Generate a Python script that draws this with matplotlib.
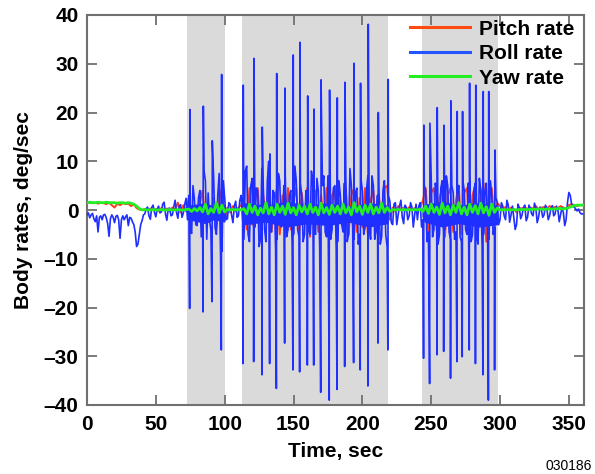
import numpy as np
import matplotlib
matplotlib.use("Agg")
import matplotlib.pyplot as plt

plt.rcParams['font.family'] = ['Liberation Sans', 'DejaVu Sans']

# roll rate background, read every 1 s, deg/sec
t_roll = np.arange(0, 361, 1)
roll_bg = [
    -1.0, -0.6, -1.6, -1.0, -0.7, -1.8, -2.4, -1.2, -4.5, -1.5,
    -1.2, -2.0, -1.0, -0.9, -1.6, -2.8, -5.4, -1.8, -1.0, -1.5,
    -2.6, -1.3, -1.1, -2.0, -5.8, -2.0, -1.2, -2.0, -1.4, -1.0,
    -3.2, -1.5, -1.7, -2.4, -3.0, -4.5, -7.5, -7.0, -5.0, -3.0,
    -2.2, -1.0, -0.8, 0.3, 0.6, -1.2, -1.9, 0.5, 1.0, -0.5,
    -1.4, 0.2, 0.8, -0.6, -0.4, 1.2, 1.6, -0.8, -2.1, 0.3,
    0.4, -1.2, -1.0, 0.6, 2.0, -0.5, -1.7, 0.8, 1.1, -1.5,
    -0.6, 1.2, 2.4, -2.0, 3.0, -4.0, -4.8, 5.0, 2.2, -3.0,
    -3.2, 2.5, 4.0, -5.5, -2.5, 8.0, 6.0, -6.0, 3.5, -2.0,
    -4.2, 5.2, 6.5, -3.6, -5.0, 3.0, 7.5, -9.0, -8.5, 6.0,
    2.5, -2.0, -1.8, 1.5, 1.2, -1.0, -2.6, 0.8, 1.8, -1.5,
    -1.2, 2.0, 3.0, -2.5, -6.0, 8.0, 9.0, -5.0, -6.5, 5.0,
    6.5, -4.0, -3.5, 4.5, 4.0, -7.5, -6.0, 8.5, 5.0, -4.0,
    -6.5, 6.0, 10.0, -3.0, -4.5, 4.0, 3.5, -8.0, -6.0, 7.5,
    6.0, -3.5, -3.0, 5.0, 7.5, -5.5, -4.0, 3.0, 4.0, -7.0,
    -5.0, 9.0, 6.0, -4.0, -5.5, 5.5, 3.0, -6.5, -5.0, 4.0,
    3.0, -4.0, -5.0, 8.0, 6.0, -3.5, -5.0, 6.5, 4.0, -7.5,
    -6.0, 5.0, 7.0, -4.5, -5.5, 7.0, 4.0, -6.0, -4.0, 4.5,
    5.0, -8.0, -6.5, 6.0, 3.0, -3.0, -4.5, 5.5, 6.5, -6.5,
    -5.0, 8.5, 5.0, -4.0, -6.0, 3.5, 4.5, -7.0, -5.0, 6.5,
    4.0, -5.0, -3.5, 4.0, 7.0, -3.5, -6.0, 7.0, 5.0, -6.0,
    -4.0, 3.0, 5.0, -7.0, -5.5, 4.0, 6.0, -5.0, -7.5, 3.0,
    1.8, -2.5, -3.0, 1.2, 1.5, -3.0, -1.0, 0.8, 2.0, -1.5,
    -2.8, 1.0, 0.5, -2.0, -1.2, 1.5, 0.6, -3.5, -1.0, 1.2,
    -2.0, 0.8, 1.5, -3.5, -2.0, 5.0, 4.0, -6.5, -4.5, 4.0,
    6.5, -5.5, -4.0, 5.5, 4.0, -7.0, -5.0, 4.5, 6.0, -5.0,
    -4.0, 7.0, 5.0, -4.5, -6.0, 5.0, 3.5, -6.0, -4.5, 3.5,
    5.0, -5.5, -6.5, 6.0, 4.0, -4.0, -5.0, 5.5, 7.0, -6.5,
    -5.0, 4.0, 5.5, -5.0, -7.0, 6.5, 4.0, -7.5, -5.0, 3.5,
    5.5, -4.5, -6.0, 6.0, 3.0, -5.0, -3.5, 2.5, 1.5, -3.0,
    -2.0, 1.5, 0.8, -1.2, -2.0, 2.0, 1.0, -2.5, -1.0, 0.8,
    -1.5, -4.0, -3.0, 1.2, 0.5, -1.8, -1.0, 0.5, 1.0, -2.2,
    -1.5, 1.0, 0.3, -0.8, -1.2, 1.4, 0.5, -2.6, -1.5, 0.6,
    0.2, -1.5, -1.0, 1.0, 0.4, -2.0, -1.2, 0.4, 0.9, -1.2,
    -0.8, 0.8, 0.2, -2.4, -1.0, 0.5, -0.5, -3.2, -2.0, 1.5,
    3.6, 3.0, 1.2, 0.8, 0.6, 0.2, -0.2, 0.2, -0.5, -0.8,
    -0.8,
]

# dense core of the roll trace inside the test periods
core_t = [72.4, 74, 86, 92, 100.2, 112.3, 114, 130, 145, 160, 175,
          190, 205, 218.8, 243.3, 245, 258, 270, 285, 298.5]
core_hi = [0.3, 1.0, 1.5, 0.8, 1.2, 0.5, 1.5, 1.0, 1.8, 1.0, 1.5,
           0.8, 1.5, 1.0, 0.5, 1.2, 1.8, 1.0, 1.5, 1.0]
core_lo = [-0.6, -2.0, -2.8, -2.0, -2.5, -1.0, -3.0, -2.5, -3.5, -2.8, -3.2,
           -2.5, -3.5, -2.8, -1.2, -2.5, -3.5, -2.8, -3.5, -3.0]
core_seg = [(0, 5), (5, 14), (14, 20)]

# big roll spikes: time, top, bottom
spike_t = [74.8, 84.5, 91.0, 97.8,
           113.5, 121.3, 127.3, 132.9, 137.8, 143.8, 149.8, 154.7, 160.3,
           164.9, 170.0, 176.2, 181.8, 187.4, 193.9, 198.7, 204.3, 211.6,
           218.8,
           244.7, 249.1, 254.4, 259.3, 264.3, 268.9, 272.8, 277.9, 282.4,
           287.8, 291.8, 296.3]
spike_hi = [20.6, 21.3, 14.2, 27.8,
            25.6, 31.1, 17.0, 11.5, 28.0, 25.0, 31.8, 34.4, 23.4,
            20.7, 26.7, 24.6, 23.0, 26.2, 30.1, 26.0, 38.1, 20.0,
            26.8,
            17.4, 17.8, 21.0, 17.4, 22.4, 20.2, 20.2, 26.0, 25.6,
            24.3, 24.3, 12.3]
spike_lo = [-20.2, -20.9, -18.8, -28.7,
            -31.5, -31.1, -33.8, -31.5, -36.6, -27.3, -32.8, -33.2, -31.8,
            -31.8, -37.4, -39.0, -36.8, -32.1, -31.3, -32.8, -36.1, -27.3,
            -28.7,
            -30.4, -35.6, -29.7, -29.0, -34.5, -31.1, -30.1, -28.7, -31.5,
            -33.8, -39.0, -32.8]

# pitch and yaw rates, read every 2 s
t_py = np.arange(0, 362, 2)
pitch = [
    1.5, 1.5, 1.4, 1.5, 1.3, 1.5, 1.4, 1.2, 1.5, 1.0,
    0.5, 1.3, 1.0, 1.4, 1.2, 1.3, 0.8, 1.2, 0.4, 0.1,
    0.0, 0.2, -0.1, 0.3, 0.0, 0.2, -0.2, 0.4, 0.0, 0.3,
    -0.2, 0.5, 0.0, 1.5, -0.5, 1.0, -0.3, 2.5, -2.0, 1.0,
    -1.5, 1.5, 4.0, -2.5, 1.0, -1.0, 2.5, -3.5, 2.0, 4.5,
    -2.0, 0.5, -0.5, 0.8, -0.3, 0.5, 1.0, 2.0, -4.0, 4.5,
    -3.0, 2.0, 4.5, -5.0, 3.0, -2.0, 4.5, -4.5, 1.5, 4.5,
    -5.0, 3.0, -2.5, 4.5, -4.0, 2.0, 4.5, -5.0, 3.5, -2.0,
    4.5, -5.5, 2.5, 4.0, -4.5, 3.0, -2.0, 4.5, -5.5, 3.0,
    4.5, -4.0, 2.0, -3.0, 4.5, -5.0, 3.0, 4.5, -4.5, 2.5,
    -3.5, 4.5, -5.0, 2.0, 4.0, -4.5, 3.0, -2.5, 4.5, 5.0,
    -2.0, 0.5, -0.3, 0.8, 0.0, 0.5, -0.2, 0.6, 0.0, 0.4,
    0.2, 0.5, 2.0, 4.5, -5.0, 3.5, 4.5, -4.0, 2.5, 4.5,
    -5.5, 3.0, 4.5, -4.5, 2.0, 5.0, -5.0, 3.5, 4.5, -6.0,
    3.0, 5.0, -4.5, 2.5, 5.5, -6.5, 3.5, 4.5, -3.0, 1.5,
    0.8, 0.3, 0.6, 0.0, 0.5, 0.2, -0.5, 0.4, 0.3, 0.6,
    0.2, 0.5, 0.3, 0.8, 0.2, 0.5, 0.6, 0.3, 0.8, 0.5,
    0.6, 0.4, 0.8, 0.5, 0.3, 1.0, 1.2, 1.0, 0.8, 1.0,
    1.0,
]
yaw = [
    1.5, 1.6, 1.5, 1.5, 1.6, 1.5, 1.5, 1.6, 1.5, 1.5,
    1.5, 1.4, 1.5, 1.5, 1.4, 1.5, 1.4, 1.2, 0.8, 0.3,
    0.0, 0.1, 0.0, 0.0, 0.1, 0.0, 0.0, 0.1, 0.0, 0.0,
    0.1, 0.0, 0.0, 0.1, 0.0, 0.0, 0.1, 0.2, -0.3, 0.3,
    -0.2, 0.5, -0.4, 1.2, -0.8, 0.3, -0.5, 1.5, -0.6, 1.0,
    -0.4, 0.1, 0.0, 0.1, 0.0, 0.1, 0.0, 0.3, -0.8, 1.2,
    -0.5, 0.8, -1.0, 0.4, -0.6, 1.5, -0.8, 0.6, -1.0, 1.2,
    -0.5, 0.8, -0.9, 1.4, -0.6, 0.5, -1.0, 1.0, -0.4, 0.8,
    -0.8, 1.2, -0.5, 0.6, -1.0, 1.4, -0.6, 0.5, -0.9, 1.0,
    -0.5, 0.8, -0.8, 1.2, -0.6, 0.6, -1.0, 1.5, -0.4, 0.8,
    -0.9, 1.0, -0.5, 1.2, -0.8, 0.6, -0.6, 1.4, -0.5, 0.5,
    -0.3, 0.1, 0.0, 0.1, 0.0, 0.1, 0.0, 0.1, 0.0, 0.1,
    0.0, 0.2, -0.3, 0.8, -0.7, 1.2, -0.5, 0.6, -0.9, 1.4,
    -0.6, 0.8, -1.0, 1.0, -0.5, 1.5, -0.8, 0.6, -1.0, 1.2,
    -0.5, 0.9, -0.8, 1.4, -0.6, 0.7, -1.1, 1.2, -0.5, 0.4,
    0.0, 0.1, 0.0, 0.1, 0.0, 0.1, 0.0, 0.1, 0.1, 0.1,
    0.1, 0.1, 0.2, 0.1, 0.2, 0.2, 0.1, 0.2, 0.2, 0.2,
    0.2, 0.3, 0.3, 0.2, 0.3, 0.5, 0.7, 0.9, 1.0, 1.0,
    1.0,
]

# grey bands (test periods)
bands = [(72.4, 100.2), (112.3, 218.8), (243.3, 298.5)]

# merge background and spikes for the roll trace
st = np.array(spike_t)
roll_t = np.concatenate([t_roll, st - 0.25, st])
roll_v = np.concatenate([roll_bg, spike_lo, spike_hi])
order = np.argsort(roll_t, kind='stable')
roll_t = roll_t[order]
roll_v = roll_v[order]

blue = '#1f2fff'

fig = plt.figure(figsize=(5.95, 4.74), dpi=100)
ax = fig.add_axes([87/595, 1-405/474, (584-87)/595, 390/474])

for a, b in bands:
    ax.axvspan(a, b, color='#dadada', lw=0, zorder=0)

ax.plot(t_py, pitch, color='#ff3b1a', lw=1.4, label='Pitch rate', zorder=2)
for i0, i1 in core_seg:
    ax.fill_between(core_t[i0:i1], core_lo[i0:i1], core_hi[i0:i1],
                    color=blue, lw=0, zorder=3)
ax.plot(roll_t, roll_v, color=blue, lw=1.2, label='Roll rate', zorder=3)
ax.plot(t_py, yaw, color='#22ee22', lw=2.0, label='Yaw rate', zorder=4)

ax.set_xlim(0, 361)
ax.set_ylim(-40, 40)
ax.set_xticks(np.arange(0, 351, 50))
ax.set_yticks(np.arange(-40, 41, 10))
ax.set_yticklabels([str(v).replace('-', '\u2013') for v in range(-40, 41, 10)])

ax.tick_params(direction='in', length=7, width=1.3, color='#707070',
               top=True, right=True, labelsize=15)
ax.tick_params(axis='x', pad=7)
ax.tick_params(axis='y', pad=6)
for lab in ax.get_xticklabels() + ax.get_yticklabels():
    lab.set_fontweight('bold')
for s in ax.spines.values():
    s.set_color('#707070')
    s.set_linewidth(1.5)

ax.set_xlabel('Time, sec', fontsize=15, fontweight='bold', labelpad=6)
ax.set_ylabel('Body rates, deg/sec', fontsize=15, fontweight='bold', labelpad=8)

leg = ax.legend(loc='upper right', bbox_to_anchor=(1.005, 1.02), frameon=False,
                prop={'weight': 'bold', 'size': 15}, handlelength=2.9,
                handletextpad=0.4, labelspacing=0.26, borderaxespad=0.2)
for line in leg.get_lines():
    line.set_linewidth(2.2)
leg.get_lines()[0].set_color('#ff4a12')
leg.get_lines()[1].set_color('#2255ff')

fig.text(592/595, 1-466/474, '030186', ha='right', va='center', fontsize=10)

fig.savefig('out.png', dpi=100)
